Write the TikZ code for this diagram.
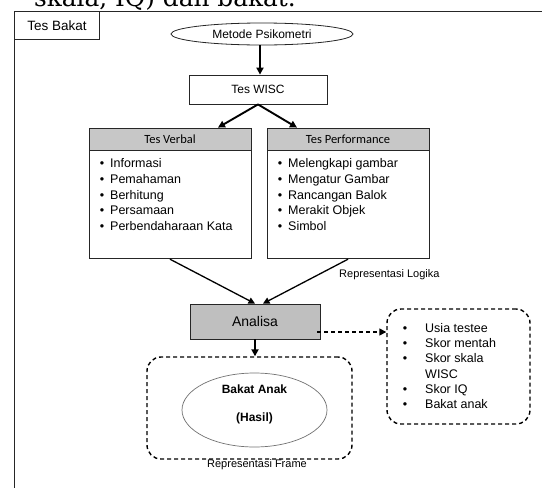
\documentclass[tikz,border=0pt]{standalone}
\usepackage{fontspec}
\setmainfont{Liberation Sans}
\newfontfamily\hdrfont{Carlito}
\newfontfamily\topserif{DejaVu Serif}
\usetikzlibrary{arrows.meta,shapes.geometric,calc}
\begin{document}
\begin{tikzpicture}[x=1pt,y=-1pt,
  box/.style={draw=black!85, line width=0.8pt, rectangle, inner sep=0pt, font=\fontsize{12}{14}\selectfont},
  hdr/.style={box, fill=black!22, minimum width=162pt, minimum height=22pt, font=\hdrfont\fontsize{12.5}{14}\selectfont},
  body/.style={box, minimum width=162pt, minimum height=108pt},
  dashbox/.style={draw=black, line width=1.4pt, dash pattern=on 4pt off 3pt, rounded corners=14pt, rectangle, inner sep=0pt},
  bigarrow/.style={line width=1.9pt, -{Triangle[length=7pt,width=7pt]}},
  thinarrow/.style={line width=1.3pt, -{Triangle[length=6.5pt,width=6.5pt]}},
  dasharrow/.style={line width=1.4pt, dash pattern=on 4pt off 3pt, -{Triangle[length=7pt,width=7pt]}},
  item/.style={anchor=base west, inner sep=0pt, font=\fontsize{12.5}{15}\selectfont},
  bul/.style={anchor=base, inner sep=0pt, font=\fontsize{12.5}{15}\selectfont},
  lbl/.style={inner sep=0pt, font=\fontsize{11}{13}\selectfont}]
\useasboundingbox (0,0) rectangle (542,488);
\fill[white] (0,0) rectangle (542,488);
% cut-off caption line above the frame
\begin{scope}
  \clip (0,0) rectangle (542,10);
  \node[anchor=base west, inner sep=0pt, font=\topserif\fontsize{24.8}{28}\selectfont] (cap) at (34,6.5) {skala, IQ) dan bakat.};
\end{scope}
% outer frame
\coordinate (fbl) at (14,488);
\coordinate (ftl) at (14,11);
\coordinate (ftr) at (542,11);
\draw[line width=0.8pt, black!85] (fbl) -- (ftl) -- (ftr);
\node[box, minimum width=85pt, minimum height=28pt, anchor=north west, font=\fontsize{13.5}{15}\selectfont] (tb) at (14,11) {Tes Bakat};
% top ellipse and WISC
\node[draw=black!85, line width=0.8pt, ellipse, minimum width=182pt, minimum height=22pt, inner sep=0pt, font=\fontsize{12}{14}\selectfont] (mp) at (262,34) {Metode Psikometri};
\node[box, minimum width=138pt, minimum height=29pt] (wisc) at (258,89.5) {Tes WISC};
\draw[bigarrow] (mp.south -| 260,0) -- (wisc.north -| 260,0);
% Verbal / Performance boxes
\node[hdr] (vh) at (170,139) {Tes Verbal};
\node[body, anchor=north] (vb) at (vh.south) {};
\node[hdr] (ph) at (348,139) {Tes Performance};
\node[body, anchor=north] (pb) at (ph.south) {};
\draw[bigarrow] (wisc.south) -- ([xshift=48pt]vh.north);
\draw[bigarrow] (wisc.south) -- ([xshift=-51pt]ph.north);
\foreach \t [count=\i] in {Informasi,Pemahaman,Berhitung,Persamaan,Perbendaharaan Kata}{
  \node[bul] (vbu\i) at (102,{167.5+15.75*(\i-1)}) {\textbullet};
  \node[item] (vi\i) at (110,{167.5+15.75*(\i-1)}) {\t};
}
\foreach \t [count=\i] in {Melengkapi gambar,Mengatur Gambar,Rancangan Balok,Merakit Objek,Simbol}{
  \node[bul] (pbu\i) at (280,{167.5+15.75*(\i-1)}) {\textbullet};
  \node[item] (pi\i) at (288,{167.5+15.75*(\i-1)}) {\t};
}
% Analisa
\node[box, fill=black!25, minimum width=130pt, minimum height=35pt, font=\fontsize{14}{16}\selectfont] (an) at (255,321.5) {Analisa};
\draw[thinarrow] (vb.south) -- (an.north);
\draw[thinarrow] (pb.south) -- ([xshift=8pt]an.north);
\node[lbl, anchor=west] (rl) at (339,275) {Representasi Logika};
% frame with result
\node[dashbox, minimum width=205pt, minimum height=102pt] (fr) at (249.5,408) {};
\node[draw=black!55, line width=0.7pt, ellipse, minimum width=145pt, minimum height=74pt, inner sep=0pt] (ha) at (254.5,410) {};
\node[inner sep=0pt, font=\bfseries\fontsize{12}{14}\selectfont] (ba) at (254.5,389) {Bakat Anak};
\node[inner sep=0pt, font=\bfseries\fontsize{12}{14}\selectfont] (hs) at (254.5,418) {(Hasil)};
\node[lbl] (rf) at (257,465) {Representasi Frame};
\draw[bigarrow] (an.south) -- (an.south |- fr.north);
% right dashed box
\node[dashbox, minimum width=143pt, minimum height=115pt] (rb) at (458.5,366.5) {};
\coordinate (d0) at (317,332);
\draw[dasharrow] (d0) -- (d0 -| rb.west);
\foreach \t/\y [count=\i] in {Usia testee/328,Skor mentah/343.3,Skor skala/358.6,Skor IQ/389.2,Bakat anak/404.5}{
  \node[bul] (rbu\i) at (405,{\y+4.3}) {\textbullet};
  \node[item] (ri\i) at (425,{\y+4.3}) {\t};
}
\node[item] (ri6) at (425,{373.9+4.3}) {WISC};
\end{tikzpicture}
\end{document}
